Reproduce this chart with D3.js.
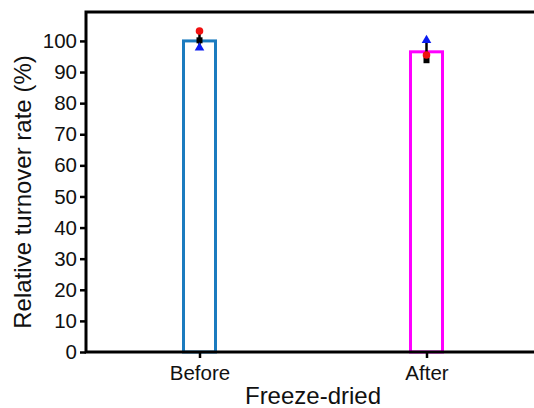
<!DOCTYPE html>
<html>
<head>
<meta charset="utf-8">
<script src="https://cdn.jsdelivr.net/npm/d3@7"></script>
<style>
  body { margin: 0; background: #fff; }
  svg { font-family: "Liberation Sans", Arial, sans-serif; }
</style>
</head>
<body>
<svg id="chart" width="534" height="408"></svg>
<script>
// gegevens
var categories = ["Before", "After"];
var barValues = [100, 96.5];
var barColors = ["#1b7bbf", "#ff00ff"];
// losse metingen per categorie: cirkel (rood), vierkant (zwart), driehoek (blauw)
var redCircle = [103.2, 95.5];
var blackSquare = [100.2, 93.8];
var blueTriangle = [97.8, 100.2];
var errLow = [97.8, 93.8];
var errHigh = [103.2, 100.2];
var yTicks = [0, 10, 20, 30, 40, 50, 60, 70, 80, 90, 100];

var svg = d3.select("#chart");
var plotLeft = 86, plotBottom = 352, plotTop = 12;

var x = d3.scalePoint().domain(categories).range([plotLeft, 540]).padding(0.5);
var y = d3.scaleLinear().domain([0, 109.3]).range([plotBottom, plotTop]);
var barW = 32;

// staven
svg.selectAll("rect.bar")
    .data(categories)
    .enter()
    .append("rect")
    .attr("class", "bar")
    .attr("x", function(d) { return x(d) - barW / 2 })
    .attr("y", function(d, i) { return y(barValues[i]) })
    .attr("width", barW)
    .attr("height", function(d, i) { return y(0) - y(barValues[i]) })
    .attr("fill", "none")
    .attr("stroke", function(d, i) { return barColors[i] })
    .attr("stroke-width", 3);

// foutbalken
svg.selectAll("line.err")
    .data(categories)
    .enter()
    .append("line")
    .attr("x1", function(d) { return x(d) })
    .attr("x2", function(d) { return x(d) })
    .attr("y1", function(d, i) { return y(errLow[i]) })
    .attr("y2", function(d, i) { return y(errHigh[i]) })
    .attr("stroke", "#000")
    .attr("stroke-width", 2.5);

svg.selectAll("path.sq")
    .data(categories)
    .enter()
    .append("path")
    .attr("transform", function(d, i) { return "translate(" + x(d) + "," + y(blackSquare[i]) + ")" })
    .attr("d", d3.symbol(d3.symbolSquare, 36))
    .attr("fill", "#000");

svg.selectAll("path.tri")
    .data(categories)
    .enter()
    .append("path")
    .attr("transform", function(d, i) { return "translate(" + x(d) + "," + y(blueTriangle[i]) + ")" })
    .attr("d", d3.symbol(d3.symbolTriangle, 40))
    .attr("fill", "#0a1cf0");

svg.selectAll("circle.pt")
    .data(categories)
    .enter()
    .append("circle")
    .attr("cx", function(d) { return x(d) })
    .attr("cy", function(d, i) { return y(redCircle[i]) })
    .attr("r", 3.8)
    .attr("fill", "#f01010");

// assen
var yAxis = svg.append("g")
    .attr("transform", "translate(" + plotLeft + ",0)")
    .call(d3.axisLeft(y).tickValues(yTicks).tickSize(6).tickPadding(3));
yAxis.select(".domain").remove();
yAxis.selectAll(".tick line").attr("stroke-width", 2.5);
yAxis.selectAll(".tick text").attr("font-size", 20.5).attr("font-family", "Liberation Sans, Arial, sans-serif").attr("fill", "#111");

var xAxis = svg.append("g")
    .attr("transform", "translate(0," + plotBottom + ")")
    .call(d3.axisBottom(x).tickSize(6).tickPadding(7));
xAxis.select(".domain").remove();
xAxis.selectAll(".tick line").attr("stroke-width", 2.5);
xAxis.selectAll(".tick text").attr("font-size", 20.5).attr("font-family", "Liberation Sans, Arial, sans-serif").attr("fill", "#111");

// kader: links, boven, onder
svg.append("path")
    .attr("d", "M534," + plotTop + "H" + plotLeft + "V" + plotBottom + "H534")
    .attr("fill", "none")
    .attr("stroke", "#000")
    .attr("stroke-width", 3)
    .attr("stroke-linejoin", "miter");

svg.append("text")
    .attr("transform", "translate(31,192) rotate(-90)")
    .attr("text-anchor", "middle")
    .attr("font-size", 24)
    .attr("fill", "#111")
    .text("Relative turnover rate (%)");

svg.append("text")
    .attr("x", (x("Before") + x("After")) / 2)
    .attr("y", 404)
    .attr("text-anchor", "middle")
    .attr("font-size", 24)
    .attr("fill", "#111")
    .text("Freeze-dried");
</script>
</body>
</html>
